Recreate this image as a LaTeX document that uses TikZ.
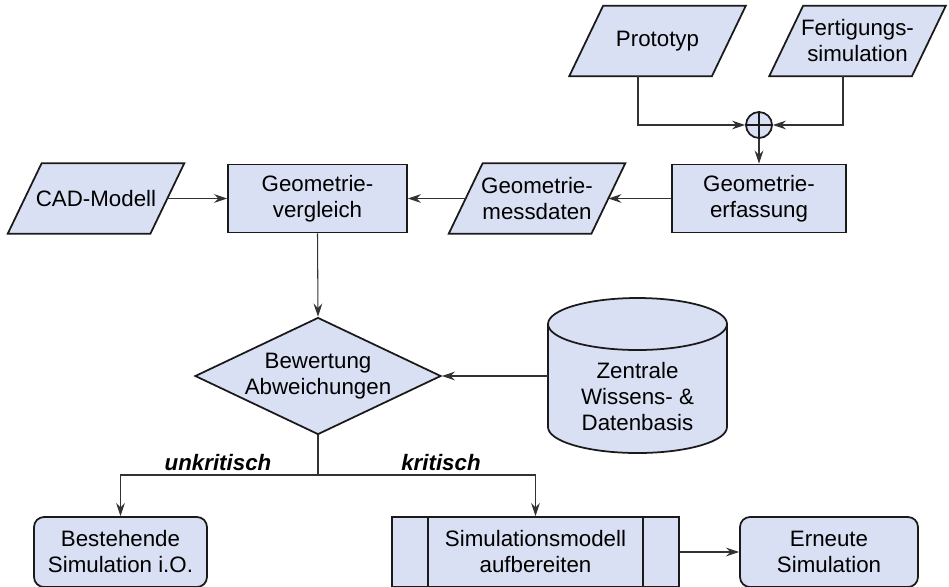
\documentclass[tikz,border=0pt]{standalone}
\usepackage{fontspec}
\setmainfont{Liberation Sans}
\usetikzlibrary{arrows.meta,shapes.geometric,backgrounds,calc}
\definecolor{boxfill}{RGB}{218,224,243}
\definecolor{edgecol}{RGB}{26,26,26}
\definecolor{wirecol}{RGB}{50,50,50}

\begin{document}
\begin{tikzpicture}[x=0.02cm,y=-0.02cm,
  font=\fontsize{12.7}{14.8}\selectfont,
  outline/.style={draw=edgecol, line width=1pt, fill=boxfill},
  box/.style={outline, rectangle, align=center, inner sep=2pt},
  paranode/.style={rectangle, align=center, minimum width=2.84cm, minimum height=1.4cm, inner sep=0pt},
  rbox/.style={box, rounded corners=0.2cm, minimum height=1.4cm},
  wire/.style={draw=wirecol, line width=0.6pt},
  arr/.style={wire, -{Stealth[length=7.5pt,width=5pt,inset=2.6pt]}},
  branch/.style={font=\fontsize{12.7}{14.8}\selectfont\bfseries\itshape, inner sep=1pt}
]
\useasboundingbox (0,0) rectangle (949,586);

% data inputs (parallelograms, outline drawn on the background layer)
\node[paranode] (proto) at (657.5,41) {Prototyp};
\node[paranode] (fert)  at (857.5,41) {Fertigungs-\\simulation};
\node[paranode] (cad)   at (96,198.5) {CAD-Modell};
\node[paranode] (mess)  at (537,198.5) {Geometrie-\\messdaten};

% process steps
\node[box, minimum width=3.58cm, minimum height=1.36cm] (vgl) at (317.5,198.5) {Geometrie-\\vergleich};
\node[box, minimum width=3.48cm, minimum height=1.36cm] (erf) at (759,198.5) {Geometrie-\\erfassung};

% summing junction
\node[outline, circle, minimum size=0.52cm, inner sep=0pt] (plus) at (759,125) {};
\draw[draw=edgecol, line width=0.8pt] (plus.north) -- (plus.south) (plus.west) -- (plus.east);

% decision
\node[outline, diamond, aspect=2.1, inner sep=0pt, minimum width=4.92cm, minimum height=2.34cm, align=center] (dia) at (318,376) {Bewertung\\Abweichungen};

% knowledge base (cylinder drawn behind its text)
\node[rectangle, align=center, minimum width=3.58cm, inner sep=0pt] (db) at (637.5,397) {Zentrale\\Wissens- \&\\Datenbasis};

% results
\node[rbox, minimum width=3.46cm] (best) at (120.5,552) {Bestehende\\Simulation i.O.};
\node[box, minimum width=5.74cm, minimum height=1.4cm] (simm) at (535.5,552) {Simulationsmodell\\aufbereiten};
\draw[draw=edgecol, line width=1pt] ([xshift=0.74cm]simm.north west) -- ([xshift=0.74cm]simm.south west)
  ([xshift=-0.74cm]simm.north east) -- ([xshift=-0.74cm]simm.south east);
\node[rbox, minimum width=3.56cm] (ern) at (829,552) {Erneute\\Simulation};

\begin{scope}[on background layer]
  \foreach \n in {proto,fert,cad,mess}{
    \path[outline] ([xshift=-0.34cm]\n.south west) -- ([xshift=-0.34cm]\n.south east)
      -- ([xshift=0.34cm]\n.north east) -- ([xshift=0.34cm]\n.north west) -- cycle;
  }
  \path[outline] ($(db.center)+(-89.5,-73)$) -- ($(db.center)+(-89.5,30)$)
    arc[start angle=180, end angle=360, x radius=1.79cm, y radius=0.52cm]
    -- ($(db.center)+(89.5,-73)$)
    arc[start angle=0, end angle=180, x radius=1.79cm, y radius=0.52cm] -- cycle;
  \draw[draw=edgecol, line width=1pt] ($(db.center)+(-89.5,-73)$)
    arc[start angle=180, end angle=360, x radius=1.79cm, y radius=0.52cm];
\end{scope}

% connectors
\draw[arr] ([xshift=-0.39cm]proto.south) |- (plus.west);
\draw[arr] ([xshift=-0.29cm]fert.south) |- (plus.east);
\draw[arr] (plus.south) -- (erf.north);
\draw[arr] (erf.west) -- (mess.east);
\draw[arr] (mess.west) -- (vgl.east);
\draw[arr] (cad.east) -- (vgl.west);
\draw[arr] (vgl.south) -- (dia.north);
\draw[arr] (db.west |- dia.east) -- (dia.east);
\coordinate (split) at (318,475);
\draw[wire] (dia.south) -- (split);
\draw[arr] (split) -| (best.north);
\draw[arr] (split) -| (simm.north);
\draw[arr] (simm.east) -- (ern.west);

% branch labels
\node[branch] (lblA) at (218,463) {unkritisch};
\node[branch] (lblB) at (441,463) {kritisch};
\end{tikzpicture}
\end{document}
